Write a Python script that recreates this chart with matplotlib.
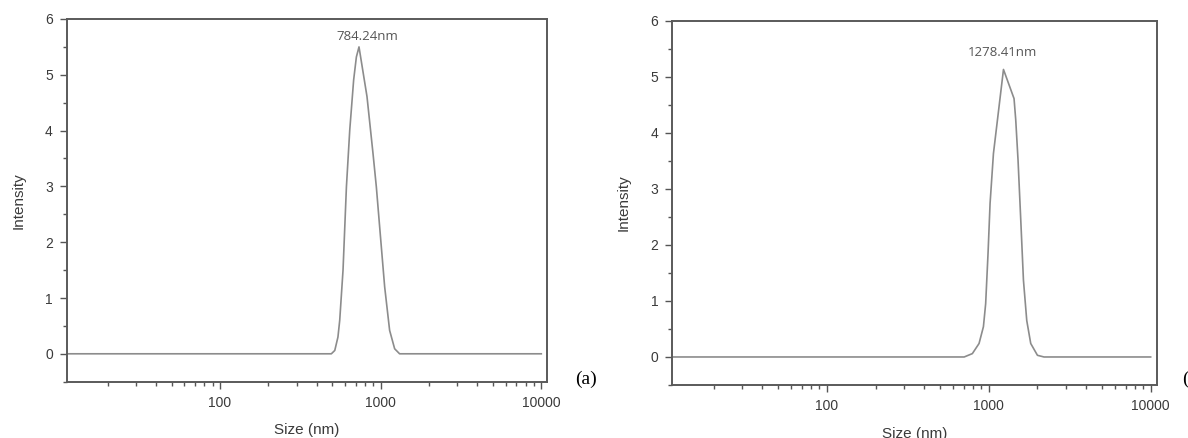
import numpy as np
import matplotlib.pyplot as plt
from matplotlib.ticker import FixedLocator, LogLocator, NullFormatter, MultipleLocator

# (a) size distribution
size_a = [11.2, 493, 518, 542, 556, 583, 612, 642, 679, 706, 733,
          822, 896, 940, 986, 1059, 1137, 1222, 1312, 10000]
int_a = [0, 0, 0.06, 0.30, 0.60, 1.50, 2.99, 4.01, 4.91, 5.32, 5.50,
         4.61, 3.59, 2.99, 2.27, 1.20, 0.42, 0.09, 0, 0]
peak_a = "784.24nm"

# (b) size distribution
size_b = [11.2, 705, 792, 871, 927, 957, 990, 1019, 1069, 1233, 1433,
          1468, 1517, 1577, 1638, 1717, 1817, 1999, 2194, 10000]
int_b = [0, 0, 0.06, 0.24, 0.54, 0.95, 1.85, 2.74, 3.63, 5.13, 4.61,
         4.23, 3.51, 2.44, 1.37, 0.65, 0.24, 0.03, 0, 0]
peak_b = "1278.41nm"

W, H = 1188, 438
fig = plt.figure(figsize=(W / 100, H / 100), dpi=100)

def px_axes(l, r, t, b):
    return fig.add_axes([l / W, 1 - b / H, (r - l) / W, (b - t) / H])

ax1 = px_axes(66.7, 547.3, 19, 381.7)
ax2 = px_axes(672.3, 1156.7, 20.7, 385)

tick_font = dict(family="Liberation Sans", size=10, color="#3a3a3a")

def style(ax, xs, ys, label, lab_xy):
    ax.plot(xs, ys, color="#8c8c8c", lw=1.2)
    ax.set_xscale("log")
    ax.set_xlim(11.1, 10900)
    ax.set_ylim(-0.5, 6)
    ax.xaxis.set_major_locator(FixedLocator([100, 1000, 10000]))
    ax.xaxis.set_minor_locator(LogLocator(base=10, subs=np.arange(2, 10)))
    ax.xaxis.set_minor_formatter(NullFormatter())
    ax.set_xticklabels(["100", "1000", "10000"], **tick_font)
    ax.yaxis.set_major_locator(FixedLocator(range(0, 7)))
    ax.yaxis.set_minor_locator(MultipleLocator(0.5))
    ax.set_yticklabels([str(v) for v in range(0, 7)], **tick_font)
    ax.tick_params(which="major", length=5, width=1.0, color="#555555", pad=5)
    ax.tick_params(which="minor", length=3, width=1.0, color="#555555")
    for s in ax.spines.values():
        s.set_color("#5a5a5a")
        s.set_linewidth(1.4)
    ax.set_xlabel("Size (nm)", family="Liberation Sans", size=11, color="#3a3a3a", labelpad=10)
    ax.set_ylabel("Intensity", family="Liberation Sans", size=11, color="#3a3a3a", labelpad=14)
    ax.text(lab_xy[0], lab_xy[1], label, family="Open Sans", size=9.5, color="#555555",
            ha="center", va="center")

style(ax1, size_a, int_a, peak_a, (830, 5.68))
style(ax2, size_b, int_b, peak_b, (1216, 5.44))

fig.text(575 / W, 1 - 379 / H, "(a)", family="Liberation Serif", size=14, va="center")
fig.text(1182 / W, 1 - 379 / H, "(b)", family="Liberation Serif", size=14, va="center")

fig.savefig("out.png", dpi=100)
